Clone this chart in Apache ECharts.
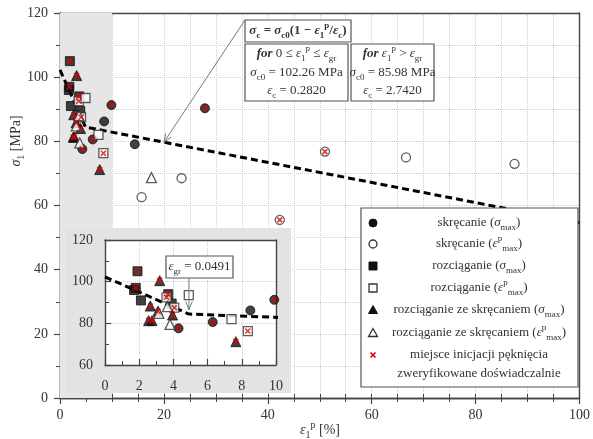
<!DOCTYPE html>
<html><head><meta charset="utf-8">
<script src="https://cdn.jsdelivr.net/npm/echarts@6/dist/echarts.min.js"></script>
<style>html,body{margin:0;padding:0;background:#fff}#c{width:593px;height:439px}</style>
</head><body><div id="c"></div><script>
// [strain %, stress MPa, crack-initiation verified (1/0)]
const torsionSigmaMax  = [[4.3,77.6,1],[6.3,80.6,1],[8.5,86.2,0],[9.9,91.3,1],[14.4,79.1,0],[27.9,90.3,1]];
const torsionEpsMax    = [[15.7,62.6,0],[23.4,68.5,0],[42.3,55.5,1],[51.0,76.8,1],[66.6,75.0,0],[87.5,73.0,0]];
const tensionSigmaMax  = [[1.9,105.0,1],[1.7,96.0,0],[1.8,97.0,1],[2.1,91.0,0],[3.7,94.0,1],[3.9,89.5,0]];
const tensionEpsMax    = [[3.6,92.5,1],[4.05,87.5,1],[4.9,93.5,0],[7.4,82.0,0],[8.35,76.3,1]];
const combinedSigmaMax = [[3.2,100.5,1],[2.65,88.3,1],[2.55,81.3,1],[2.75,81.3,1],[3.1,85.8,1],[3.95,84.0,1],[7.65,71.2,1]];
const combinedEpsMax   = [[3.15,84.8,0],[3.8,79.5,0],[3.65,88.0,0],[17.6,68.7,0]];
const fitLine = [[0,102.26],[4.91,84.46],[100,54.62]];
const shadedRange = [0,10];
const arrowTarget = [20,79.71];
const grTarget = [4.91,86.5];
const mainXTicks = [0,20,40,60,80,100];
const mainYTicks = [0,20,40,60,80,100,120];
const insetXTicks = [0,2,4,6,8,10];
const insetYTicks = [60,80,100,120];
const legendLabels = [
  '{n|skręcanie (}{i|σ}{sub|max}{n|)}',
  '{n|skręcanie (}{i|ε}{sup|p}{sub|max}{n|)}',
  '{n|rozciąganie (}{i|σ}{sub|max}{n|)}',
  '{n|rozciąganie (}{i|ε}{sup|p}{sub|max}{n|)}',
  '{n|rozciąganie ze skręcaniem (}{i|σ}{sub|max}{n|)}',
  '{n|rozciąganie ze skręcaniem (}{i|ε}{sup|p}{sub|max}{n|)}',
  '{n|miejsce inicjacji pęknięcia}',
  '{n|zweryfikowane doświadczalnie}'
];

const SERIF = '"Liberation Serif", "Times New Roman", serif';
const TXT = '#333';
const AX = '#444';
const chart = echarts.init(document.getElementById('c'));

function richSet(size, bold) {
  const w = bold ? 'bold' : 'normal';
  const s = Math.round(size*0.68);
  const mk = o => Object.assign({fontFamily:SERIF, fontSize:size, fontWeight:w, fill:TXT, color:TXT, lineHeight:size+6, verticalAlign:'middle'}, o);
  return {
    n: mk({}), i: mk({fontStyle:'italic'}), bi: mk({fontStyle:'italic', fontWeight:'bold'}),
    sub: mk({fontSize:s, lineHeight:s, verticalAlign:'bottom'}),
    sup: mk({fontSize:s, lineHeight:s, verticalAlign:'top'})
  };
}
const R13 = richSet(13,false), R13B = richSet(13,true), R14 = richSet(14,false);

function xAxisDef(gi, ticks, o) {
  return Object.assign({gridIndex:gi, type:'value', min:ticks[0], max:ticks[ticks.length-1], interval:ticks[1]-ticks[0],
    axisLine:{show:true, onZero:false, lineStyle:{color:AX, width:1.4}},
    axisTick:{show:true, inside:false, length:6, lineStyle:{color:AX, width:1.2}},
    minorTick:{show:true, splitNumber:4, length:4, lineStyle:{color:AX, width:1}},
    axisLabel:{show:true, color:TXT, fontFamily:SERIF, fontSize:14, margin:10},
    splitLine:{show:false}, minorSplitLine:{show:false}}, o);
}
const dotted = {show:true, lineStyle:{color:'#cfcfcf', type:'dotted', width:1}};
const noLab = {show:false};

const xAxes = [
  xAxisDef(0, mainXTicks, {position:'bottom', splitLine:dotted, minorSplitLine:dotted}),
  xAxisDef(0, mainXTicks, {position:'bottom', axisTick:{show:true, inside:true, length:4, lineStyle:{color:AX}}, axisLabel:noLab}),
  xAxisDef(0, mainXTicks, {position:'top', axisTick:{show:false}, minorTick:{show:false}, axisLabel:noLab}),
  xAxisDef(1, insetXTicks, {position:'bottom', z:7, splitLine:dotted, minorTick:{show:true, splitNumber:2, length:4, lineStyle:{color:AX}},
     axisTick:{show:true, inside:true, length:6, lineStyle:{color:AX, width:1.2}}, axisLabel:{color:TXT, fontFamily:SERIF, fontSize:14, margin:14}}),
  xAxisDef(1, insetXTicks, {position:'top', z:7, axisTick:{show:false}, minorTick:{show:false}, axisLabel:noLab})
];
const yAxes = [
  xAxisDef(0, mainYTicks, {position:'left', splitLine:dotted, minorSplitLine:dotted, minorTick:{show:true, splitNumber:2, length:4, lineStyle:{color:AX}}, axisLabel:{color:TXT, fontFamily:SERIF, fontSize:14, margin:12}}),
  xAxisDef(0, mainYTicks, {position:'left', axisTick:{show:true, inside:true, length:5, lineStyle:{color:AX}}, minorTick:{show:true, splitNumber:2, length:3, lineStyle:{color:AX}}, axisLabel:noLab}),
  xAxisDef(0, mainYTicks, {position:'right', axisTick:{show:false}, minorTick:{show:false}, axisLabel:noLab}),
  xAxisDef(1, insetYTicks, {position:'left', z:7, splitLine:dotted, minorTick:{show:true, splitNumber:2, length:4, lineStyle:{color:AX}},
     axisTick:{show:true, inside:true, length:6, lineStyle:{color:AX, width:1.2}}, axisLabel:{color:TXT, fontFamily:SERIF, fontSize:14, margin:12}}),
  xAxisDef(1, insetYTicks, {position:'right', z:7, axisTick:{show:false}, minorTick:{show:false}, axisLabel:noLab})
];

const FILLED = {color:'#111', borderColor:'#111', borderWidth:1};
const OPEN = {color:'#fff', borderColor:'#333', borderWidth:1.3};
const groups = [
  [torsionSigmaMax,'circle',9,FILLED],
  [torsionEpsMax,'circle',9,OPEN],
  [tensionSigmaMax,'rect',9,FILLED],
  [tensionEpsMax,'rect',9,OPEN],
  [combinedSigmaMax,'triangle',10,FILLED],
  [combinedEpsMax,'triangle',10,OPEN]
];
const cracks = [];
groups.forEach(g => g[0].forEach(p => { if (p[2]) cracks.push([p[0],p[1]]); }));
const XPATH = 'path://M0,0L10,10M10,0L0,10';

function seriesFor(axisIdx, z) {
  const out = [];
  out.push({type:'line', xAxisIndex:axisIdx, yAxisIndex:axisIdx, data:fitLine, symbol:'none', z:z, silent:true,
    lineStyle:{color:'#000', width:3, type:[7,4]}, animation:false});
  groups.forEach(g => out.push({type:'scatter', xAxisIndex:axisIdx, yAxisIndex:axisIdx, z:z+1, silent:true, animation:false,
    data:g[0].map(p=>[p[0],p[1]]), symbol:g[1], symbolSize:g[2], itemStyle:g[3]}));
  out.push({type:'scatter', xAxisIndex:axisIdx, yAxisIndex:axisIdx, z:z+2, silent:true, animation:false,
    data:cracks, symbol:XPATH, symbolSize:5, itemStyle:{color:'rgba(0,0,0,0)', borderColor:'#e00000', borderWidth:1.6}});
  return out;
}

const series = [
  {type:'line', xAxisIndex:0, yAxisIndex:0, data:[], z:-1, silent:true, animation:false,
   markArea:{silent:true, itemStyle:{color:'#e6e6e6'}, data:[[{xAxis:shadedRange[0]},{xAxis:shadedRange[1]}]]}}
].concat(seriesFor(0, 2), seriesFor(3, 8));

chart.setOption({
  animation:false,
  grid:[
    {left:60, top:13, width:520, height:385, show:false},
    {left:105, top:240, width:171, height:125, show:true, backgroundColor:'#fff', borderWidth:0, z:6}
  ],
  xAxis:xAxes, yAxis:yAxes, series:series
});

function txt(x, y, str, rich, z, rot) {
  return {type:'text', x:x, y:y, z:z, silent:true, rotation:rot||0,
    style:{text:str, rich:rich, align:'center', verticalAlign:'middle', fontFamily:SERIF, fontSize:13, fill:TXT}};
}
function box(x, y, w, h, z) {
  return {type:'rect', z:z, silent:true, shape:{x:x, y:y, width:w, height:h}, style:{fill:'#fff', stroke:'#555', lineWidth:1.2}};
}
function arrow(x1, y1, x2, y2, z) {
  const a = Math.atan2(y2-y1, x2-x1), L = 9, sp = 0.38;
  return [
    {type:'line', z:z, silent:true, shape:{x1:x1,y1:y1,x2:x2,y2:y2}, style:{stroke:'#777', lineWidth:1}},
    {type:'polyline', z:z, silent:true, shape:{points:[[x2-L*Math.cos(a-sp), y2-L*Math.sin(a-sp)],[x2,y2],[x2-L*Math.cos(a+sp), y2-L*Math.sin(a+sp)]]}, style:{stroke:'#777', lineWidth:1, fill:null}}
  ];
}

const g = [];
g.push({type:'rect', z:5, silent:true, shape:{x:66, y:228, width:225, height:165}, style:{fill:'#e3e3e3'}});
g.push(txt(16, 141, '{i|σ}{sub|1}{n| [MPa]}', R14, 20, Math.PI/2));
g.push(txt(320, 430, '{i|ε}{sub|1}{sup|p}{n| [%]}', R14, 20));
const tip = chart.convertToPixel({gridIndex:0}, arrowTarget);
arrow(245, 20, tip[0], tip[1], 19).forEach(e => g.push(e));
g.push(box(245, 20, 106, 22, 20));
g.push(txt(298, 31, '{i|σ}{sub|c}{n| = }{i|σ}{sub|c0}{n|(1 − }{i|ε}{sub|1}{sup|p}{n|/}{i|ε}{sub|c}{n|)}', R13B, 21));
g.push(box(245, 44, 103, 57, 20));
g.push(txt(296.5, 54, '{bi|for}{n| 0 ≤ }{i|ε}{sub|1}{sup|p}{n| ≤ }{i|ε}{sub|gr}', R13, 21));
g.push(txt(296.5, 73, '{i|σ}{sub|c0}{n| = 102.26 MPa}', R13, 21));
g.push(txt(296.5, 91, '{i|ε}{sub|c}{n| = 0.2820}', R13, 21));
g.push(box(351, 44, 83, 57, 20));
g.push(txt(392.5, 54, '{bi|for}{n| }{i|ε}{sub|1}{sup|p}{n| > }{i|ε}{sub|gr}', R13, 21));
g.push(txt(392.5, 73, '{i|σ}{sub|c0}{n| = 85.98 MPa}', R13, 21));
g.push(txt(392.5, 91, '{i|ε}{sub|c}{n| = 2.7420}', R13, 21));
const gtip = chart.convertToPixel({gridIndex:1}, grTarget);
arrow(gtip[0], 278, gtip[0], gtip[1], 19).forEach(e => g.push(e));
g.push(box(166, 256, 67, 22, 20));
g.push(txt(199.5, 267, '{i|ε}{sub|gr}{n| = 0.0491}', R13, 21));
g.push(box(361, 208, 217, 179, 22));
const rowsY = [223, 244, 266, 288, 310, 333, 355, 374];
const sx = 373, lz = 23;
const blk = {fill:'#111', stroke:'#111', lineWidth:1};
const opn = {fill:'#fff', stroke:'#333', lineWidth:1.3};
g.push({type:'circle', z:lz, silent:true, shape:{cx:sx, cy:rowsY[0], r:4}, style:blk});
g.push({type:'circle', z:lz, silent:true, shape:{cx:sx, cy:rowsY[1], r:4}, style:opn});
g.push({type:'rect', z:lz, silent:true, shape:{x:sx-4, y:rowsY[2]-4, width:8, height:8}, style:blk});
g.push({type:'rect', z:lz, silent:true, shape:{x:sx-4, y:rowsY[3]-4, width:8, height:8}, style:opn});
g.push({type:'polygon', z:lz, silent:true, shape:{points:[[sx,rowsY[4]-4.5],[sx+4.5,rowsY[4]+3.5],[sx-4.5,rowsY[4]+3.5]]}, style:blk});
g.push({type:'polygon', z:lz, silent:true, shape:{points:[[sx,rowsY[5]-4.5],[sx+4.5,rowsY[5]+3.5],[sx-4.5,rowsY[5]+3.5]]}, style:opn});
g.push({type:'polyline', z:lz, silent:true, shape:{points:[[sx-2.5,rowsY[6]-2.5],[sx+2.5,rowsY[6]+2.5]]}, style:{stroke:'#e00000', lineWidth:1.6, fill:null}});
g.push({type:'polyline', z:lz, silent:true, shape:{points:[[sx+2.5,rowsY[6]-2.5],[sx-2.5,rowsY[6]+2.5]]}, style:{stroke:'#e00000', lineWidth:1.6, fill:null}});
legendLabels.forEach((s, i) => g.push(txt(479, rowsY[i], s, R13, lz)));

chart.setOption({graphic:g});
</script></body></html>
